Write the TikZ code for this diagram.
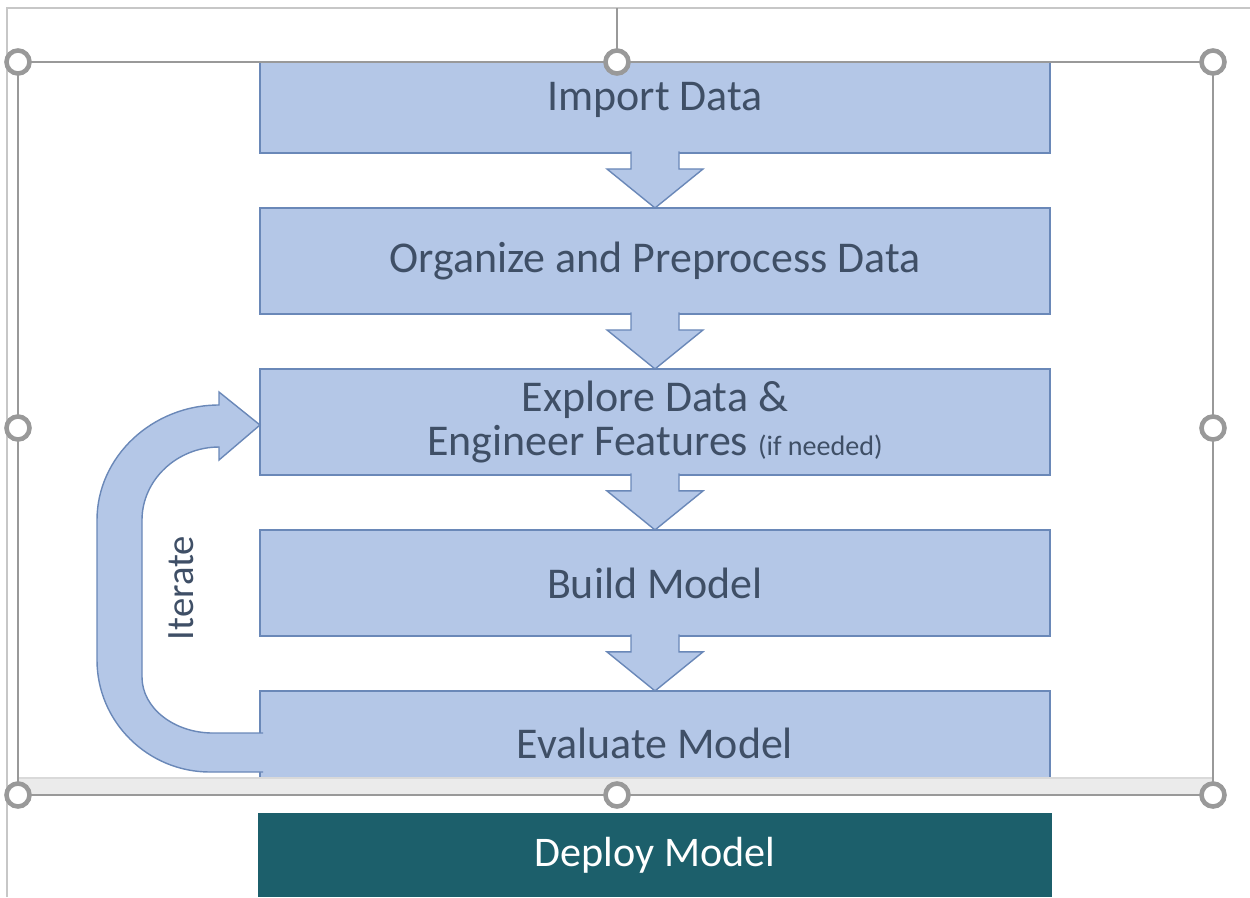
\documentclass[tikz,border=0pt]{standalone}
\usepackage{fontspec}
\setmainfont{Carlito}
\usetikzlibrary{calc,positioning}
\definecolor{boxblue}{HTML}{B4C7E7}
\definecolor{boxedge}{HTML}{6A88B8}
\definecolor{slatetext}{HTML}{3F4F66}
\definecolor{deployteal}{HTML}{1C5F6B}
\definecolor{framegray}{HTML}{999999}
\definecolor{bandgray}{HTML}{EBEBEB}
\tikzstyle{stepbox}=[draw=boxedge,fill=boxblue,text=slatetext,line width=0.8pt,minimum width=15.8cm,minimum height=2.12cm,align=center,inner sep=0pt,outer sep=0pt,font=\fontsize{25}{25}\selectfont]
\tikzstyle{deploybox}=[fill=deployteal,text=white,minimum width=15.88cm,minimum height=1.68cm,inner sep=0pt,font=\fontsize{24}{25}\selectfont]
\tikzstyle{flowarrow}=[draw=boxedge,fill=boxblue,line width=0.8pt,line join=miter]
\tikzstyle{handle}=[circle,draw=framegray,fill=white,line width=2.6pt,minimum size=0.46cm,inner sep=0pt]

\begin{document}
\begin{tikzpicture}[x=0.02cm,y=-0.02cm,node distance=3.22cm]
  \useasboundingbox (0,0) rectangle (1250,897);
  % the steps, cut off by the selection frame
  \begin{scope}
    \clip (18,62) rectangle (1213,778);
    \node[stepbox] (imp) at (655,100) {Import Data};
    \node[stepbox] (org) [below of=imp] {Organize and Preprocess Data};
    \node[stepbox] (expl) [below of=org] {Explore Data \&\\Engineer Features {\fontsize{16}{18}\selectfont (if needed)}};
    \node[stepbox] (build) [below of=expl] {Build Model};
    \node[stepbox] (eval) [below of=build] {Evaluate Model};

    \foreach \a/\b in {imp/org,org/expl,expl/build,build/eval}
      \draw[flowarrow] ($(\a.south)+(-24,-1.5)$) -- ++(0,17.5) -- ++(-24,0) -- (\b.north)
        -- ($(\a.south)+(48,16)$) -- ++(-24,0) -- ++(0,-17.5);

    % iterate loop
    \draw[flowarrow] (263,772) -- (210,772) .. controls (148,772) and (97,722) .. (97,660)
      -- (97,520) .. controls (97,457) and (152,405) .. (219,405) -- (219,392) -- (260,425)
      -- (219,460) -- (219,447) .. controls (177,447) and (142,480) .. (142,520)
      -- (142,677) .. controls (142,708) and (174,733) .. (213,733) -- (263,733);
    \node[text=slatetext,rotate=90,font=\fontsize{22}{24}\selectfont] (iter) at (181,588) {Iterate};
  \end{scope}

  % screen around the selection
  \fill[bandgray] (18,778) rectangle (1213,795);
  \draw[black!15,line width=0.6pt] (18,778) -- (1213,778);
  \draw[black!22,line width=0.6pt] (7,897) -- (7,8) -- (1250,8);
  \draw[framegray,line width=0.9pt] (617,8) -- (617,62);
  \draw[framegray,line width=0.9pt] (18,62) rectangle (1213,795);
  \foreach \x/\y [count=\i] in {18/62,617/62,1213/62,18/428,1213/428,18/795,617/795,1213/795}
    \node[handle] (h\i) at (\x,\y) {};

  \node[deploybox] (dep) [below of=eval,node distance=2.22cm] {Deploy Model};
\end{tikzpicture}
\end{document}
